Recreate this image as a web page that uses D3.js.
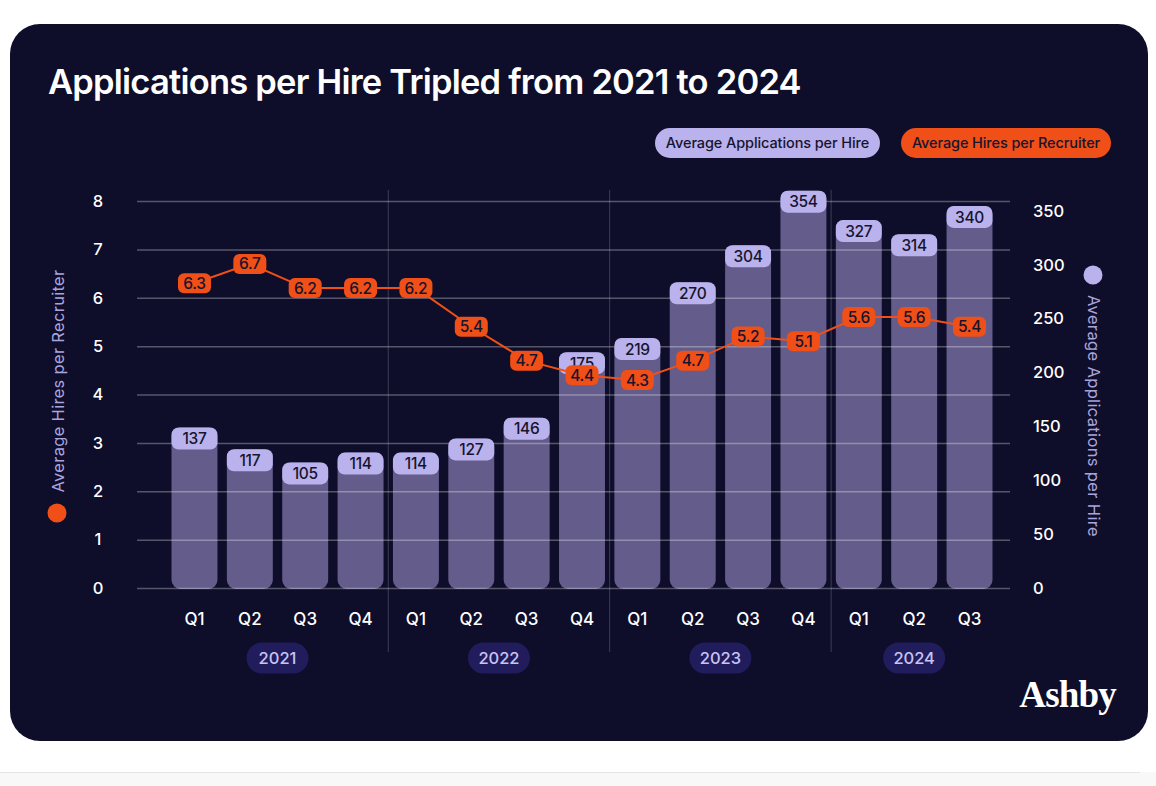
<!DOCTYPE html>
<html>
<head>
<meta charset="utf-8">
<script src="https://cdn.jsdelivr.net/npm/d3@7"></script>
<style>
  html, body { margin: 0; padding: 0; background: #ffffff; }
  svg { display: block; font-family: Inter, "Open Sans", sans-serif; }
</style>
</head>
<body>
<div id="chart"></div>
<script>
// quarters along the x axis
var quarters = ["Q1","Q2","Q3","Q4","Q1","Q2","Q3","Q4","Q1","Q2","Q3","Q4","Q1","Q2","Q3"];
var years = ["2021","2021","2021","2021","2022","2022","2022","2022","2023","2023","2023","2023","2024","2024","2024"];
var yearNames = ["2021","2022","2023","2024"];

// bars: average applications per hire (right axis), heights as drawn
var appsPerHire = [137,117,105,114,114,127,146,206,219,270,304,354,327,314,340];
// printed labels on the bars (Q4 2022 is printed 175 though drawn taller)
var appsLabels = ["137","117","105","114","114","127","146","175","219","270","304","354","327","314","340"];
// line: average hires per recruiter (left axis)
var hiresPerRecruiter = [6.3,6.7,6.2,6.2,6.2,5.4,4.7,4.4,4.3,4.7,5.2,5.1,5.6,5.6,5.4];

var leftTicks = [0,1,2,3,4,5,6,7,8];
var rightTicks = [0,50,100,150,200,250,300,350];

var title = "Applications per Hire Tripled from 2021 to 2024";
var leftTitle = "Average Hires per Recruiter";
var rightTitle = "Average Applications per Hire";

var W = 1156, H = 786;
var navy = "#0e0d2a";
var lavender = "#b9b2ec";
var barColor = "#645d8b";
var orange = "#f04f17";
var ink = "#17142e";

var svg = d3.select("#chart").append("svg")
  .attr("width", W)
  .attr("height", H);

/* page footer strip below the card */
svg.append("rect")
  .attr("x", 0).attr("y", 772).attr("width", W).attr("height", H - 772)
  .attr("fill", "#f8f8f9");
svg.append("line")
  .attr("x1", 0).attr("x2", 1140).attr("y1", 772.5).attr("y2", 772.5)
  .attr("stroke", "#e4e4e8").attr("stroke-width", 1);

/* the dark card */
svg.append("rect")
  .attr("x", 10).attr("y", 24).attr("width", 1138).attr("height", 717)
  .attr("rx", 30).attr("fill", navy);

svg.append("text")
  .attr("x", 48).attr("y", 94)
  .attr("fill", "#ffffff")
  .attr("font-size", 34.5)
  .attr("font-weight", 600)
  .attr("letter-spacing", -0.78)
  .text(title);

/* scales */
var x = d3.scaleBand()
  .domain(d3.range(quarters.length))
  .range([166.8, 997.2])
  .paddingInner(0.17)
  .paddingOuter(0.085);
var bw = x.bandwidth();
function cx(i) { return x(i) + bw / 2; }

var yL = d3.scaleLinear().domain([0, 8]).range([588, 201]);
var yR = d3.scaleLinear().domain([0, 350]).range([588, 206]);
// right-hand tick labels sit on a slightly shorter scale in the original
var yRaxis = d3.scaleLinear().domain([0, 350]).range([588, 211]);

/* legend pills */
var legend = [
  { label: rightTitle, fill: lavender, x: 655, w: 225 },
  { label: leftTitle, fill: orange, x: 901, w: 210 }
];
var lg = svg.selectAll(".legend")
    .data(legend)
  .enter().append("g")
    .attr("class", "legend")
    .attr("transform", function(d) { return "translate(" + d.x + ",128)"; });
lg.append("rect")
  .attr("width", function(d) { return d.w; })
  .attr("height", 30)
  .attr("rx", 15)
  .attr("fill", function(d) { return d.fill; });
lg.append("text")
  .attr("x", function(d) { return d.w / 2; })
  .attr("y", 15)
  .attr("dy", "0.35em")
  .attr("text-anchor", "middle")
  .attr("fill", ink)
  .attr("font-size", 14.5)
  .attr("font-weight", 500)
  .attr("letter-spacing", -0.1)
  .text(function(d) { return d.label; });

/* bars */
svg.selectAll(".bar")
    .data(appsPerHire)
  .enter().append("rect")
    .attr("class", "bar")
    .attr("x", function(d, i) { return x(i); })
    .attr("y", function(d) { return yR(d) - 11; })
    .attr("width", bw)
    .attr("height", function(d) { return yR(0) - yR(d) + 12; })
    .attr("rx", 9)
    .attr("fill", barColor);

/* grid lines */
svg.append("g")
  .attr("class", "grid")
  .attr("transform", "translate(137,0)")
  .call(d3.axisLeft(yL).tickValues(leftTicks).tickSize(-873).tickFormat(""))
  .call(function(g) { g.select(".domain").remove(); })
  .call(function(g) {
    g.selectAll("line").attr("stroke", "rgba(255,255,255,0.3)").attr("stroke-width", 1.5);
  });

/* year separators */
var breaks = [];
for (var i = 1; i < years.length; i++) {
  if (years[i] !== years[i - 1]) breaks.push(i);
}
svg.selectAll(".sep")
    .data(breaks)
  .enter().append("line")
    .attr("class", "sep")
    .attr("x1", function(i) { return (x(i - 1) + bw + x(i)) / 2; })
    .attr("x2", function(i) { return (x(i - 1) + bw + x(i)) / 2; })
    .attr("y1", 190)
    .attr("y2", 652)
    .attr("stroke", "rgba(255,255,255,0.2)")
    .attr("stroke-width", 1);

/* left axis */
svg.append("g")
  .attr("transform", "translate(98,0)")
  .call(d3.axisLeft(yL).tickValues(leftTicks).tickSize(0).tickPadding(0))
  .call(function(g) { g.select(".domain").remove(); })
  .call(function(g) {
    g.selectAll("text")
      .attr("text-anchor", "middle")
      .attr("fill", "#ffffff")
      .attr("font-size", 16.5)
      .attr("font-weight", 500)
      .attr("font-family", "Inter, sans-serif");
  });

/* right axis */
svg.append("g")
  .attr("transform", "translate(1033,0)")
  .call(d3.axisRight(yRaxis).tickValues(rightTicks).tickSize(0).tickPadding(0))
  .call(function(g) { g.select(".domain").remove(); })
  .call(function(g) {
    g.selectAll("text")
      .attr("fill", "#ffffff")
      .attr("font-size", 16.5)
      .attr("font-weight", 500)
      .attr("font-family", "Inter, sans-serif");
  });

/* axis titles with colour dots */
svg.append("text")
  .attr("transform", "translate(58,381) rotate(-90)")
  .attr("text-anchor", "middle")
  .attr("dy", "0.35em")
  .attr("fill", "#aaa4dc")
  .attr("font-size", 16.5)
  .attr("letter-spacing", 0.3)
  .text(leftTitle);
svg.append("circle")
  .attr("cx", 57).attr("cy", 513).attr("r", 9.5)
  .attr("fill", orange);

svg.append("text")
  .attr("transform", "translate(1094,416) rotate(90)")
  .attr("text-anchor", "middle")
  .attr("dy", "0.35em")
  .attr("fill", "#aaa4dc")
  .attr("font-size", 16.5)
  .attr("letter-spacing", 0.35)
  .text(rightTitle);
svg.append("circle")
  .attr("cx", 1093).attr("cy", 275).attr("r", 9.5)
  .attr("fill", lavender);

/* quarter labels */
svg.selectAll(".qlabel")
    .data(quarters)
  .enter().append("text")
    .attr("class", "qlabel")
    .attr("x", function(d, i) { return cx(i); })
    .attr("y", 619)
    .attr("dy", "0.35em")
    .attr("text-anchor", "middle")
    .attr("fill", "#ffffff")
    .attr("font-size", 17)
    .attr("font-weight", 500)
    .text(function(d) { return d; });

/* year pills */
var yg = svg.selectAll(".year")
    .data(yearNames)
  .enter().append("g")
    .attr("class", "year")
    .attr("transform", function(yr) {
      var idx = d3.range(years.length).filter(function(i) { return years[i] === yr; });
      var mid = (cx(idx[0]) + cx(idx[idx.length - 1])) / 2;
      return "translate(" + mid + ",658)";
    });
yg.append("rect")
  .attr("x", -31).attr("y", -15.5)
  .attr("width", 62).attr("height", 31)
  .attr("rx", 15.5)
  .attr("fill", "#211d5c");
yg.append("text")
  .attr("dy", "0.35em")
  .attr("text-anchor", "middle")
  .attr("fill", "#c9c3f3")
  .attr("font-size", 16.5)
  .attr("font-weight", 500)
  .text(function(d) { return d; });

/* bar value boxes */
var bl = svg.selectAll(".barlabel")
    .data(appsPerHire)
  .enter().append("g")
    .attr("class", "barlabel")
    .attr("transform", function(d, i) { return "translate(" + cx(i) + "," + yR(d) + ")"; });
bl.append("rect")
  .attr("x", -bw / 2).attr("y", -11)
  .attr("width", bw).attr("height", 22)
  .attr("rx", 7)
  .attr("fill", lavender);
bl.append("text")
  .attr("dy", "0.36em")
  .attr("text-anchor", "middle")
  .attr("fill", ink)
  .attr("font-size", 15.5)
  .attr("font-weight", 500)
  .attr("letter-spacing", -0.3)
  .text(function(d, i) { return appsLabels[i]; });

/* hires line */
var line = d3.line()
  .x(function(d, i) { return cx(i); })
  .y(function(d) { return yL(d); });
svg.append("path")
  .datum(hiresPerRecruiter)
  .attr("fill", "none")
  .attr("stroke", orange)
  .attr("stroke-width", 2)
  .attr("d", line);

var hl = svg.selectAll(".hirelabel")
    .data(hiresPerRecruiter)
  .enter().append("g")
    .attr("class", "hirelabel")
    .attr("transform", function(d, i) { return "translate(" + cx(i) + "," + yL(d) + ")"; });
hl.append("rect")
  .attr("x", -16.5).attr("y", -10)
  .attr("width", 33).attr("height", 20)
  .attr("rx", 6)
  .attr("fill", orange);
hl.append("text")
  .attr("dy", "0.36em")
  .attr("text-anchor", "middle")
  .attr("fill", ink)
  .attr("font-size", 15.5)
  .attr("font-weight", 500)
  .attr("letter-spacing", -0.3)
  .text(function(d) { return d3.format(".1f")(d); });

/* logo */
svg.append("text")
  .attr("x", 1116).attr("y", 707)
  .attr("text-anchor", "end")
  .attr("fill", "#ffffff")
  .attr("font-size", 37)
  .attr("font-weight", 700)
  .attr("font-family", "'Liberation Serif', serif")
  .attr("letter-spacing", -0.8)
  .text("Ashby");
</script>
</body>
</html>
